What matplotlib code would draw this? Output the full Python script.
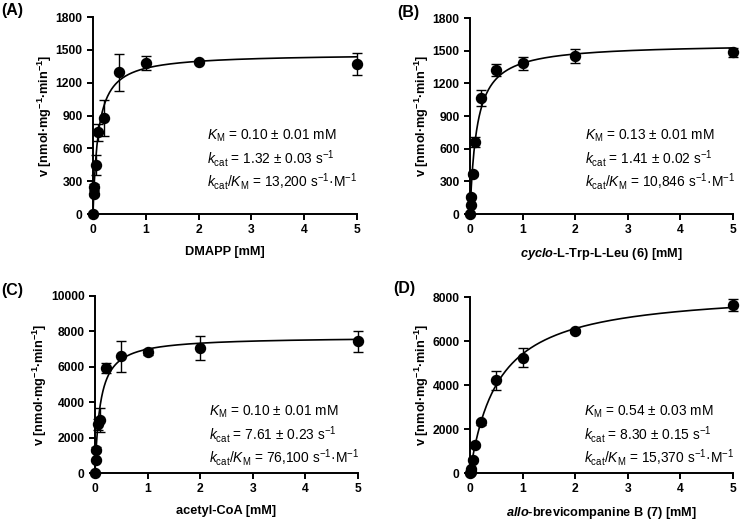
import numpy as np
import matplotlib
matplotlib.use("Agg")
import matplotlib.pyplot as plt

plt.rcParams['font.family'] = ['Liberation Sans', 'DejaVu Sans']
plt.rcParams['mathtext.fontset'] = 'custom'
plt.rcParams['mathtext.rm'] = 'Liberation Sans'
plt.rcParams['mathtext.it'] = 'Liberation Sans:italic'
plt.rcParams['mathtext.bf'] = 'Liberation Sans:bold'
plt.rcParams['mathtext.sf'] = 'Liberation Sans:bold:italic'

# ---- data ----
conc = [0, 0.01, 0.02, 0.05, 0.1, 0.2, 0.5, 1, 2, 5]

vA = [0, 186, 247, 445, 746, 877, 1294, 1380, 1392, 1371]
eA = [0, 20, 25, 90, 75, 165, 170, 67, 15, 100]
vmaxA, kmA = 1465, 0.10

vB = [0, 80, 160, 370, 660, 1065, 1320, 1385, 1450, 1485]
eB = [0, 10, 15, 20, 43, 70, 55, 58, 62, 40]
vmaxB, kmB = 1565, 0.13

vC = [0, 715, 1320, 2750, 3010, 5930, 6590, 6840, 7060, 7440]
eC = [0, 60, 150, 300, 690, 280, 890, 150, 660, 600]
vmaxC, kmC = 7700, 0.10

vD = [0, 60, 200, 600, 1260, 2300, 4210, 5240, 6450, 7650]
eD = [0, 20, 30, 60, 80, 100, 420, 440, 100, 270]
vmaxD, kmD = 8340, 0.54

xticks = [0, 1, 2, 3, 4, 5]
yticksAB = [0, 300, 600, 900, 1200, 1500, 1800]
yticksC = [0, 2000, 4000, 6000, 8000, 10000]
yticksD = [0, 2000, 4000, 6000, 8000]

xlabels = ['DMAPP [mM]',
           r'$\mathsf{cyclo}$-L-Trp-L-Leu (6) [mM]',
           'acetyl-CoA [mM]',
           r'$\mathsf{allo}$-brevicompanine B (7) [mM]']
ylabel = r'v [nmol·mg$^{\mathbf{-1}}$·min$^{\mathbf{-1}}$]'

annots = [
    [r'$K_\mathrm{M}$ = 0.10 ± 0.01 mM', r'$k_\mathrm{cat}$ = 1.32 ± 0.03 s$^{-1}$',
     r'$k_\mathrm{cat}/K_\mathrm{M}$ = 13,200 s$^{-1}$·M$^{-1}$'],
    [r'$K_\mathrm{M}$ = 0.13 ± 0.01 mM', r'$k_\mathrm{cat}$ = 1.41 ± 0.02 s$^{-1}$',
     r'$k_\mathrm{cat}/K_\mathrm{M}$ = 10,846 s$^{-1}$·M$^{-1}$'],
    [r'$K_\mathrm{M}$ = 0.10 ± 0.01 mM', r'$k_\mathrm{cat}$ = 7.61 ± 0.23 s$^{-1}$',
     r'$k_\mathrm{cat}/K_\mathrm{M}$ = 76,100 s$^{-1}$·M$^{-1}$'],
    [r'$K_\mathrm{M}$ = 0.54 ± 0.03 mM', r'$k_\mathrm{cat}$ = 8.30 ± 0.15 s$^{-1}$',
     r'$k_\mathrm{cat}/K_\mathrm{M}$ = 15,370 s$^{-1}$·M$^{-1}$'],
]
panel_labels = ['(A)', '(B)', '(C)', '(D)']

W, H = 740, 521
fig = plt.figure(figsize=(W / 100, H / 100), dpi=100)

def rect(l, r, t, b):
    return [l / W, 1 - b / H, (r - l) / W, (b - t) / H]

rects = [rect(93, 357, 17, 214), rect(470, 733, 18, 214),
         rect(95, 358, 296, 473), rect(470, 733, 297, 473)]
ydata = [(vA, eA, vmaxA, kmA, yticksAB), (vB, eB, vmaxB, kmB, yticksAB),
         (vC, eC, vmaxC, kmC, yticksC), (vD, eD, vmaxD, kmD, yticksD)]
label_pos = [(1, 11), (397, 12), (1, 290), (393, 288)]
annot_pos = [(207, 136), (585, 136), (209, 412), (584, 412)]

xs = np.linspace(0, 5, 400)
for i, (r, (v, e, vmax, km, yt)) in enumerate(zip(rects, ydata)):
    ax = fig.add_axes(r)
    ax.plot(xs, vmax * xs / (km + xs), color='black', lw=1.2, zorder=2)
    ax.errorbar(conc, v, yerr=e, fmt='o', color='black', ms=7.2,
                capsize=3.5, elinewidth=1.0, capthick=1.0, clip_on=False, zorder=3)
    ax.set_xlim(0, 5)
    ax.set_ylim(yt[0], yt[-1])
    ax.set_xticks(xticks)
    ax.set_yticks(yt)
    for s in ['top', 'right']:
        ax.spines[s].set_visible(False)
    for s in ['left', 'bottom']:
        ax.spines[s].set_linewidth(1.4)
    ax.tick_params(direction='out', length=4.5, width=1.4, labelsize=8.7, pad=3)
    for lab in ax.get_xticklabels() + ax.get_yticklabels():
        lab.set_fontweight('bold')
    ax.set_xlabel(xlabels[i], fontsize=9.2, fontweight='bold', labelpad=7)
    ax.set_ylabel(ylabel, fontsize=9.2, fontweight='bold', labelpad=1)
    lx, ly = label_pos[i]
    fig.text(lx / W, 1 - ly / H, panel_labels[i], fontsize=11.5, fontweight='bold',
             ha='left', va='center')
    axp, ayp = annot_pos[i]
    for j, t in enumerate(annots[i]):
        fig.text(axp / W, 1 - (ayp + 22.5 * j) / H, t, fontsize=9.9, ha='left', va='center')

fig.savefig('out.png', dpi=100)
